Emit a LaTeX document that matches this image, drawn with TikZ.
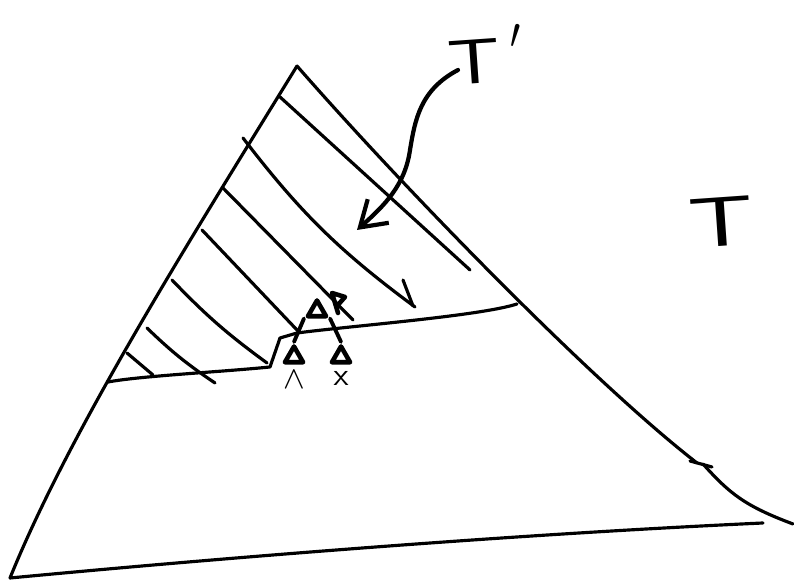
\documentclass[tikz,border=0pt]{standalone}
\usepackage{amsmath}
\usepackage{amssymb}
\usepackage{tikz}
\usetikzlibrary{calc}
\usetikzlibrary{positioning}
\usetikzlibrary{shapes.geometric}
\usetikzlibrary{arrows.meta}

\begin{document}
\begin{tikzpicture}[
        sketch/.style={line width=0.9pt, line cap=round, line join=round},
        subtree/.style={draw, regular polygon, regular polygon sides=3, minimum size=0.21cm, inner sep=0pt, line width=1.3pt, line join=round}
    ]
            \useasboundingbox (0,0) rectangle (7.94,5.84);

            \coordinate (A) at (2.97,5.18);
            \coordinate (B) at (0.10,0.06);
            \coordinate (C) at (7.63,0.61);
            \coordinate (K) at (6.97,1.21);
            \coordinate (E) at (7.93,0.60);

            \coordinate (L) at (1.08,2.02);
            \coordinate (S1) at (2.70,2.17);
            \coordinate (S2) at (2.80,2.46);
            \coordinate (S3) at (2.97,2.51);
            \coordinate (M) at (5.17,2.80);

            % outer triangle T
            \draw[sketch] (A) .. controls (1.90,3.44) and (0.70,1.54) .. (B);
            \draw[sketch] (B) .. controls (2.00,0.24) and (5.00,0.49) .. (C);
            \draw[sketch] (A) .. controls (4.00,4.00) and (5.90,2.04) .. (K);
            \draw[sketch] (6.90,1.23) -- (7.12,1.17);
            \draw[sketch] (7.03,1.20) .. controls (7.30,0.90) and (7.45,0.78) .. (E);

            % cut line of T'
            \draw[sketch] (L) .. controls (1.40,2.08) and (2.20,2.12) .. (S1) -- (S2) -- (S3)
                .. controls (3.50,2.58) and (4.80,2.68) .. (M);

            % hatching
            \draw[sketch] (2.80,4.87) -- (4.70,3.14);
            \draw[sketch] (2.43,4.46) to[bend right=8] (4.15,2.77);
            \draw[sketch] (4.03,3.04) -- (4.13,2.78);
            \draw[sketch] (2.23,3.96) -- (3.53,2.64);
            \draw[line width=1.3pt, line cap=round, line join=round] (3.38,2.71) -- (3.32,2.91) -- (3.45,2.87) -- (3.37,2.78);
            \draw[sketch] (2.02,3.54) -- (2.97,2.54);
            \draw[sketch] (1.72,3.04) to[bend right=5] (2.67,2.21);
            \draw[sketch] (1.47,2.56) to[bend right=5] (2.15,2.01);
            \draw[sketch] (1.27,2.31) -- (1.53,2.09);

            % small subtrees
            \node[subtree] (top) at (3.17,2.73) {};
            \node[subtree] (lft) at (2.94,2.27) {};
            \node[subtree] (rgt) at (3.41,2.27) {};
            \draw[line width=1.1pt, line cap=round] (top.corner 2) -- (lft.corner 1);
            \draw[line width=1.1pt, line cap=round] (top.corner 3) -- (rgt.corner 1);

            \node[below=0.6mm of lft, inner sep=0pt] (lam) {\small$\wedge$};
            \node[below=0.6mm of rgt, inner sep=0pt] (xx) {\small\sffamily x};

            % labels
            \node[rotate=4] (Tp) at (4.86,5.29) {\fontsize{18}{21}\selectfont\sffamily\scalebox{1.3}[1]{T}\,\raisebox{3pt}{$'$}};
            \node[rotate=4] (T) at (7.21,3.62) {\fontsize{20}{24}\selectfont\sffamily\scalebox{1.45}[1]{T}};

            \coordinate (arrstart) at (4.58,5.14);
            \coordinate (arrtip) at (3.57,3.54);
            \draw[line width=1.2pt, line cap=round, -{Straight Barb[length=7pt,width=9pt,line width=1.2pt]}]
                (arrstart) .. controls (4.20,4.94) and (4.15,4.64) .. (4.10,4.34)
                .. controls (4.05,3.99) and (3.85,3.79) .. (arrtip);
        \end{tikzpicture}
\end{document}
